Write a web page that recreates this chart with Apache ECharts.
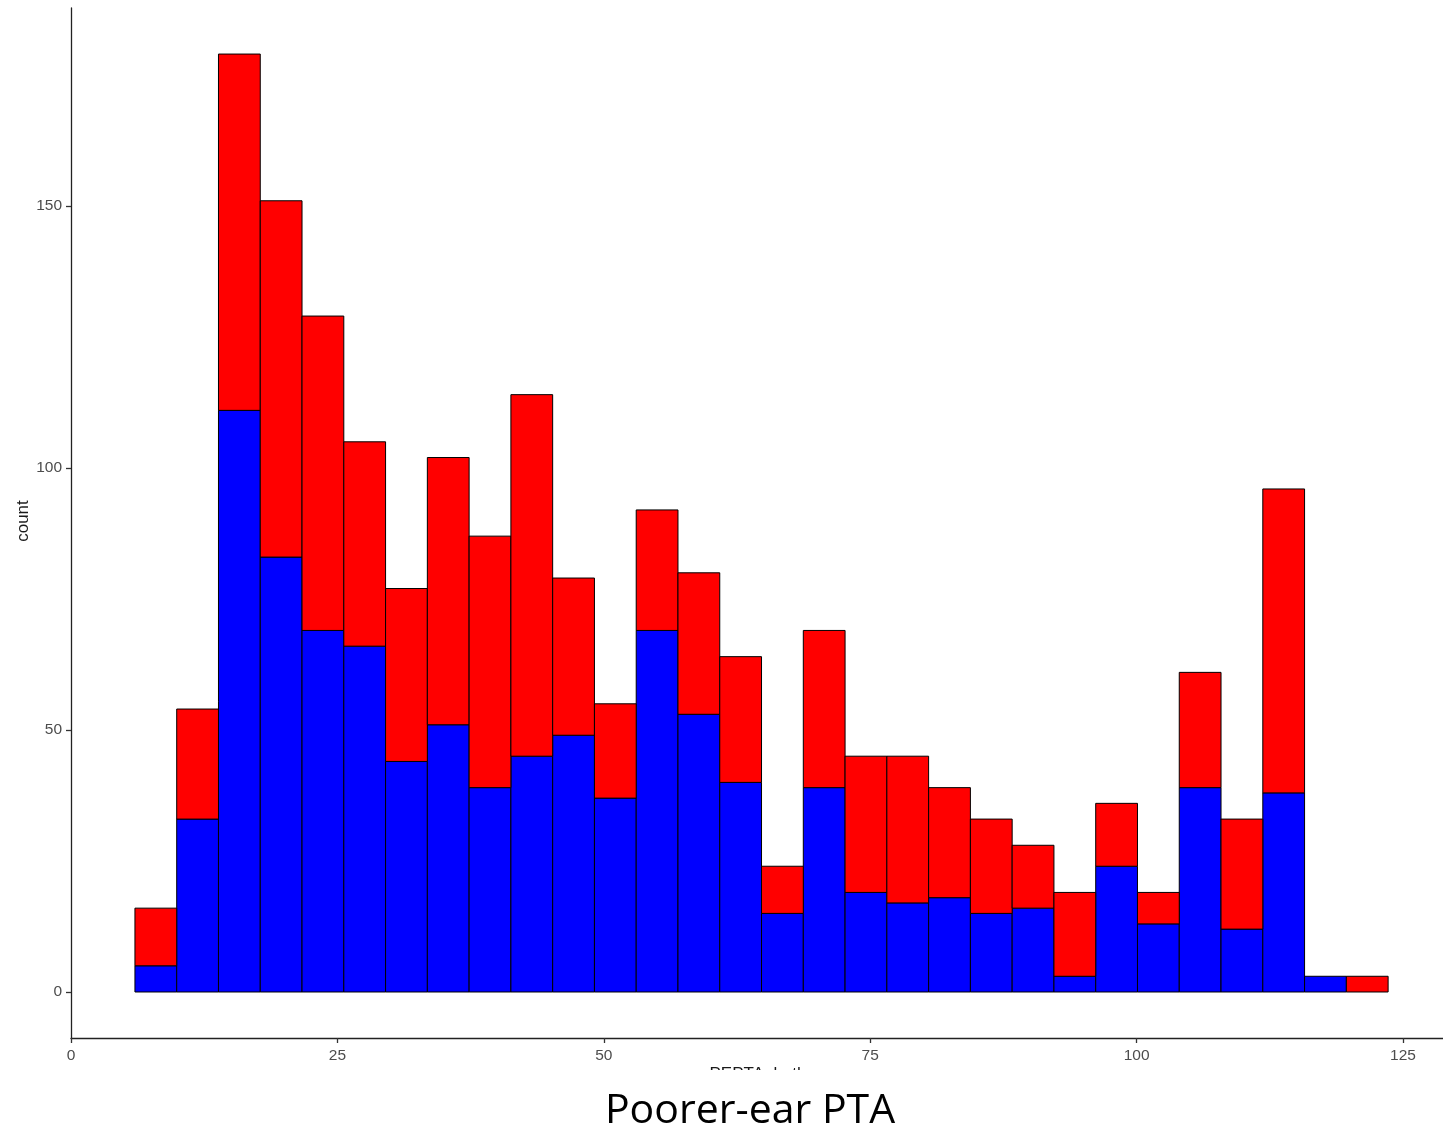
<!DOCTYPE html>
<html>
<head>
<meta charset="utf-8">
<title>Poorer-ear PTA</title>
<script src="https://cdn.jsdelivr.net/npm/echarts@6/dist/echarts.min.js"></script>
<style>
  html, body { margin: 0; padding: 0; background: #ffffff; }
  #chart { width: 1443px; height: 1134px; }
</style>
</head>
<body>
<div id="chart"></div>
<script>
// Histogram bin edges (dB HL), 30 bins
const binEdges = [6.0, 9.92, 13.84, 17.76, 21.68, 25.6, 29.52, 33.44, 37.36, 41.28,
  45.2, 49.12, 53.04, 56.96, 60.88, 64.8, 68.72, 72.64, 76.56, 80.48,
  84.4, 88.32, 92.24, 96.16, 100.08, 104.0, 107.92, 111.84, 115.76, 119.68, 123.6];

// Counts per bin for each group (blue stacked at the bottom, red on top)
const blueCounts = [5, 33, 111, 83, 69, 66, 44, 51, 39, 45, 49, 37, 69, 53, 40,
  15, 39, 19, 17, 18, 15, 16, 3, 24, 13, 39, 12, 38, 3, 0];
const redCounts = [11, 21, 68, 68, 60, 39, 33, 51, 48, 69, 30, 18, 23, 27, 24,
  9, 30, 26, 28, 21, 18, 12, 16, 12, 6, 22, 21, 58, 0, 3];

const xTicks = [0, 25, 50, 75, 100, 125];
const yTicks = [0, 50, 100, 150];

// Build stacked rectangles: [left, right, bottom, top]
function stackedRects(counts, baseCounts) {
  const out = [];
  for (let i = 0; i < counts.length; i++) {
    const base = baseCounts ? baseCounts[i] : 0;
    if (counts[i] > 0) out.push([binEdges[i], binEdges[i + 1], base, base + counts[i]]);
  }
  return out;
}

function rectRenderer(fill) {
  return function (params, api) {
    const p0 = api.coord([api.value(0), api.value(2)]);
    const p1 = api.coord([api.value(1), api.value(3)]);
    return {
      type: 'rect',
      shape: { x: p0[0], y: p1[1], width: p1[0] - p0[0], height: p0[1] - p1[1] },
      style: { fill: fill, stroke: '#000000', lineWidth: 1 }
    };
  };
}

const chart = echarts.init(document.getElementById('chart'), null, { renderer: 'canvas' });

const axisFont = 'Liberation Sans, Arial, sans-serif';

chart.setOption({
  backgroundColor: '#ffffff',
  animation: false,
  grid: { left: 71, right: 0, top: 8, bottom: 96 },
  xAxis: {
    type: 'value',
    min: 0,
    max: 128.75,
    axisLine: { show: true, onZero: false, lineStyle: { color: '#222222', width: 1.3 } },
    axisTick: { show: true, length: 5, customValues: xTicks, lineStyle: { color: '#333333', width: 1.3 } },
    axisLabel: { customValues: xTicks, margin: 10, color: '#4d4d4d', fontSize: 15.5, fontFamily: axisFont },
    splitLine: { show: false }
  },
  yAxis: {
    type: 'value',
    min: -8.78,
    max: 187.79,
    axisLine: { show: true, onZero: false, lineStyle: { color: '#222222', width: 1.3 } },
    axisTick: { show: true, length: 5, customValues: yTicks, lineStyle: { color: '#333333', width: 1.3 } },
    axisLabel: { customValues: yTicks, margin: 9, color: '#4d4d4d', fontSize: 15.5, fontFamily: axisFont },
    splitLine: { show: false }
  },
  series: [
    {
      type: 'custom',
      name: 'blue',
      renderItem: rectRenderer('#0000ff'),
      encode: { x: [0, 1], y: [2, 3] },
      data: stackedRects(blueCounts, null)
    },
    {
      type: 'custom',
      name: 'red',
      renderItem: rectRenderer('#ff0000'),
      encode: { x: [0, 1], y: [2, 3] },
      data: stackedRects(redCounts, blueCounts)
    }
  ],
  graphic: [
    {
      type: 'text',
      x: 23, y: 521,
      rotation: Math.PI / 2,
      style: { text: 'count', fill: '#1a1a1a', font: '17px ' + axisFont, textAlign: 'center', textVerticalAlign: 'middle' }
    },
    {
      type: 'text',
      x: 758, y: 1066,
      style: { text: 'PEPTA_both', fill: '#1a1a1a', font: '17px ' + axisFont, textAlign: 'center', textVerticalAlign: 'top' }
    },
    {
      type: 'rect',
      shape: { x: 0, y: 1070, width: 1443, height: 64 },
      style: { fill: '#ffffff' }
    },
    {
      type: 'text',
      x: 750, y: 1111,
      style: { text: 'Poorer-ear PTA', fill: '#000000', font: '41px "Open Sans", sans-serif', textAlign: 'center', textVerticalAlign: 'middle' }
    }
  ]
});
</script>
</body>
</html>
